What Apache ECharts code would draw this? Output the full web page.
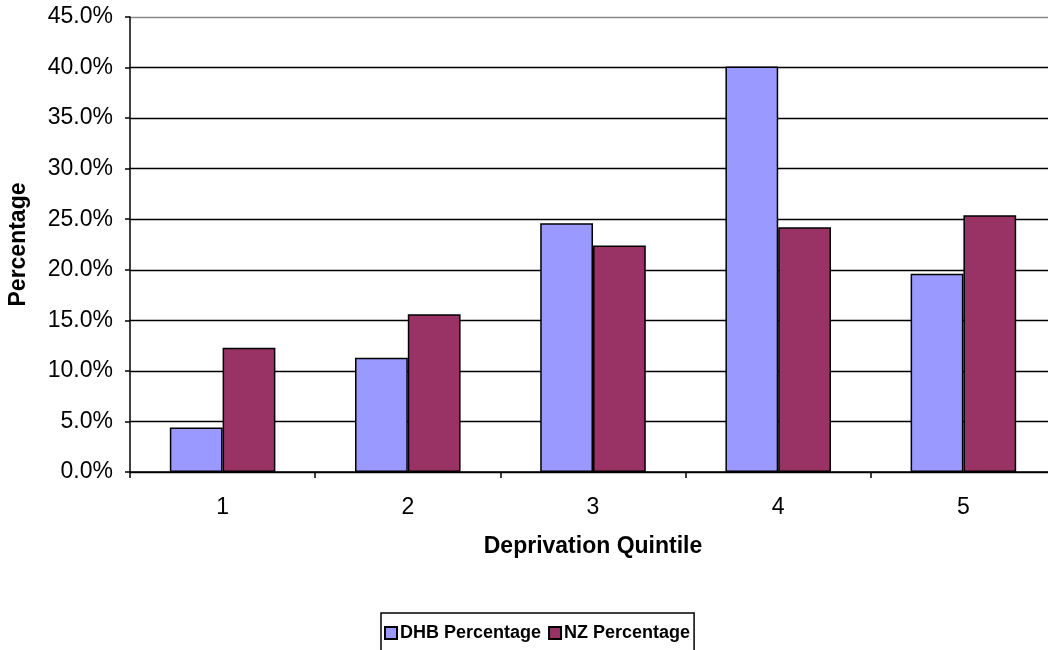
<!DOCTYPE html>
<html>
<head>
<meta charset="utf-8">
<script src="https://cdn.jsdelivr.net/npm/echarts@6/dist/echarts.min.js"></script>
<style>
  html, body { margin: 0; padding: 0; background: #fff; }
  #chart { width: 1048px; height: 650px; }
</style>
</head>
<body>
<div id="chart"></div>
<script>
// Deprivation quintiles and the share of the population in each (%)
var quintiles = ['1', '2', '3', '4', '5'];
var dhbPercentage = [4.4, 11.3, 24.6, 40.1, 19.6];
var nzPercentage = [12.3, 15.6, 22.4, 24.2, 25.4];
var seriesNames = ['DHB Percentage', 'NZ Percentage'];

var FONT = 'Liberation Sans, Arial, sans-serif';

// grid lines are black; the topmost one is the grey plot border
var gridColors = [];
for (var i = 0; i < 10; i++) gridColors.push(i === 9 ? '#8a8a8a' : '#000');

var chart = echarts.init(document.getElementById('chart'), null, { renderer: 'canvas' });
chart.setOption({
  backgroundColor: '#fff',
  animation: false,
  textStyle: { fontFamily: FONT },
  grid: {
    left: 130, top: 17, width: 926, height: 455,
    containLabel: false,
    outerBoundsMode: 'none'
  },
  legend: {
    data: seriesNames,
    left: 381,
    top: 613,
    orient: 'horizontal',
    padding: [11, 4, 14, 3],
    itemWidth: 12,
    itemHeight: 12,
    itemGap: 7,
    icon: 'rect',
    borderColor: '#000',
    borderWidth: 1.5,
    textStyle: { fontFamily: FONT, fontSize: 18, fontWeight: 'bold', color: '#000', padding: [0, 0, 0, -2] }
  },
  xAxis: {
    type: 'category',
    data: quintiles,
    boundaryGap: true,
    name: 'Deprivation Quintile',
    nameLocation: 'middle',
    nameGap: 63,
    nameTextStyle: { fontFamily: FONT, fontSize: 23, fontWeight: 'bold', color: '#000' },
    axisLine: { lineStyle: { color: '#000', width: 1.5 } },
    axisTick: { show: true, length: 6, lineStyle: { color: '#000', width: 1.5 } },
    axisLabel: { fontFamily: FONT, fontSize: 23, color: '#000', margin: 24 },
    splitLine: { show: false }
  },
  yAxis: {
    type: 'value',
    min: 0,
    max: 45,
    interval: 5,
    name: 'Percentage',
    nameLocation: 'middle',
    nameGap: 100,
    nameRotate: 90,
    nameTextStyle: { fontFamily: FONT, fontSize: 23, fontWeight: 'bold', color: '#000' },
    axisLine: { show: true, lineStyle: { color: '#000', width: 1.5 } },
    axisTick: { show: true, length: 5, lineStyle: { color: '#000', width: 1.5 } },
    axisLabel: {
      fontFamily: FONT, fontSize: 23, color: '#000', margin: 17,
      formatter: function (v) { return v.toFixed(1) + '%'; }
    },
    splitLine: { show: true, lineStyle: { color: gridColors, width: 1.3 } }
  },
  series: [
    {
      name: seriesNames[0],
      type: 'bar',
      data: dhbPercentage,
      barGap: '0%',
      barCategoryGap: '43%',
      itemStyle: { color: '#9999FF', borderColor: '#000', borderWidth: 1.5 }
    },
    {
      name: seriesNames[1],
      type: 'bar',
      data: nzPercentage,
      barGap: '0%',
      barCategoryGap: '43%',
      itemStyle: { color: '#993366', borderColor: '#000', borderWidth: 1.5 }
    }
  ]
});
</script>
</body>
</html>
